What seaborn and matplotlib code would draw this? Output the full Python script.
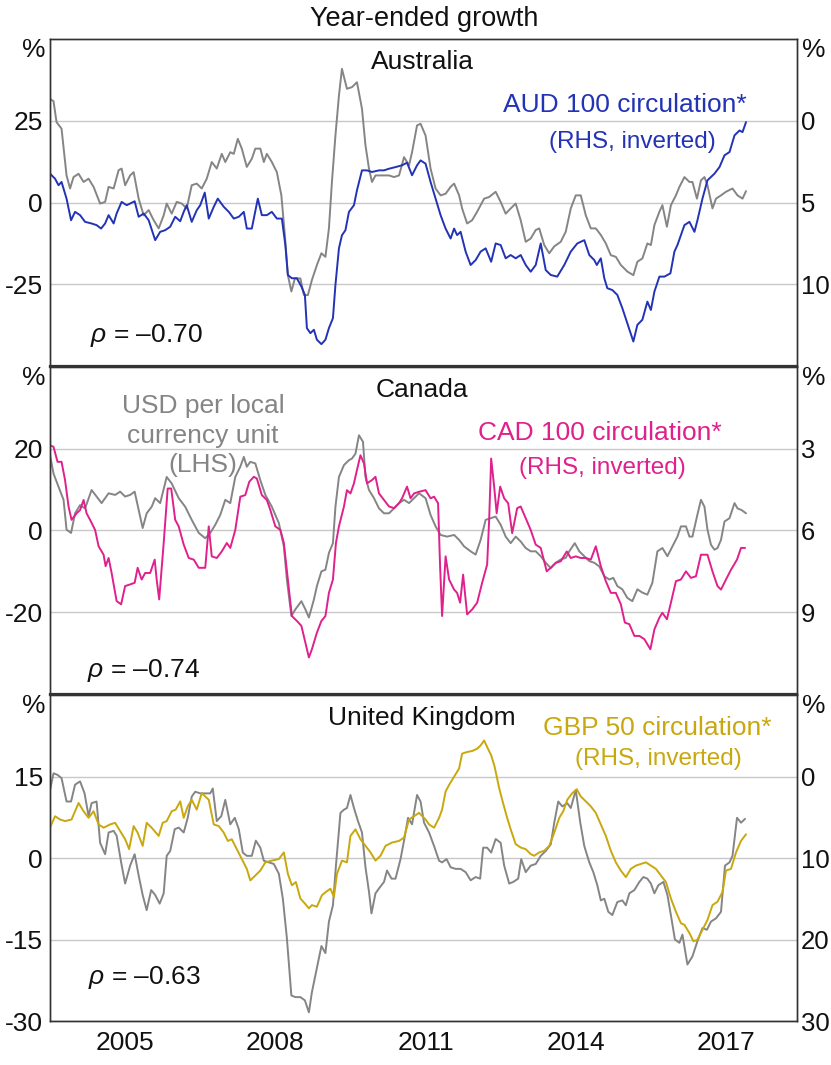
import matplotlib
matplotlib.use("Agg")
import matplotlib.pyplot as plt
import seaborn as sns

# ---- data (decimal years, % year-ended growth) ----
# Australia
aus_fx_t = [2004.00, 2004.07, 2004.13, 2004.23, 2004.33, 2004.40, 2004.47, 2004.57, 2004.67, 2004.77,
            2004.87, 2005.00, 2005.10, 2005.17, 2005.27, 2005.37, 2005.43, 2005.50, 2005.60, 2005.67,
            2005.77, 2005.87, 2005.97, 2006.07, 2006.17, 2006.27, 2006.33, 2006.43, 2006.53, 2006.63,
            2006.73, 2006.83, 2006.93, 2007.03, 2007.13, 2007.23, 2007.33, 2007.43, 2007.50, 2007.60,
            2007.67, 2007.75, 2007.83, 2007.93, 2008.03, 2008.10, 2008.20, 2008.27, 2008.33, 2008.43,
            2008.53, 2008.62, 2008.69, 2008.75, 2008.82, 2008.89, 2009.00, 2009.07, 2009.15, 2009.23,
            2009.33, 2009.42, 2009.50, 2009.57, 2009.63, 2009.70, 2009.77, 2009.83, 2009.93, 2010.03,
            2010.13, 2010.23, 2010.30, 2010.37, 2010.43, 2010.50, 2010.63, 2010.77, 2010.87, 2010.97,
            2011.07, 2011.17, 2011.23, 2011.33, 2011.40, 2011.50, 2011.60, 2011.70, 2011.80, 2011.90,
            2012.00, 2012.07, 2012.17, 2012.23, 2012.33, 2012.43, 2012.53, 2012.67, 2012.77, 2012.90,
            2013.00, 2013.10, 2013.20, 2013.30, 2013.40, 2013.50, 2013.60, 2013.70, 2013.77, 2013.87,
            2013.97, 2014.07, 2014.20, 2014.30, 2014.40, 2014.50, 2014.60, 2014.70, 2014.80, 2014.90,
            2015.00, 2015.10, 2015.20, 2015.30, 2015.40, 2015.53, 2015.65, 2015.73, 2015.83, 2015.93,
            2016.00, 2016.07, 2016.17, 2016.23, 2016.32, 2016.40, 2016.50, 2016.57, 2016.67, 2016.77,
            2016.83, 2016.92, 2017.00, 2017.07, 2017.13, 2017.23, 2017.30, 2017.40, 2017.50, 2017.63,
            2017.73, 2017.83, 2017.90]
aus_fx = [31.7, 31.0, 24.6, 22.6, 8.3, 4.3, 7.8, 8.8, 6.3, 7.3,
          4.8, -0.3, 0.2, 4.8, 4.3, 9.9, 10.4, 5.3, 8.3, 9.3,
          1.2, -3.9, -2.3, -5.4, -7.9, -3.9, -0.3, -3.4, 0.2, -0.3,
          -1.8, 5.3, 5.8, 4.3, 7.3, 12.4, 10.4, 14.9, 12.4, 15.4,
          14.9, 19.5, 16.5, 10.9, 13.4, 16.5, 16.5, 12.4, 14.9, 12.4,
          9.3, 2.2, -10.0, -22.2, -27.2, -23.2, -23.2, -28.3, -28.3, -23.7,
          -19.1, -15.5, -16.6, -7.9, 6.3, 20.5, 32.7, 40.9, 34.8, 35.3,
          36.8, 28.7, 17.5, 10.4, 6.3, 8.3, 8.3, 8.3, 7.8, 8.3,
          13.9, 11.4, 15.4, 23.6, 24.1, 20.5, 10.4, 4.3, 2.2, 2.7,
          4.8, 5.8, 2.2, -1.8, -6.4, -5.4, -2.8, 1.2, 1.7, 3.3,
          0.2, -3.4, -1.8, -0.3, -5.4, -12.0, -11.0, -8.4, -7.9, -13.0,
          -15.5, -13.4, -12.0, -8.9, -1.8, 2.2, 2.2, -3.9, -7.9, -7.9,
          -9.9, -12.5, -16.1, -16.6, -19.1, -21.1, -22.2, -18.1, -17.1, -12.5,
          -13.0, -6.9, -2.8, -0.8, -7.4, -0.8, 2.2, 4.8, 7.8, 6.3,
          6.3, 1.2, 6.8, 7.8, 5.3, -1.8, 1.2, 2.2, 3.3, 4.3,
          2.2, 1.2, 3.5]
aus_circ_t = [2004.00, 2004.10, 2004.17, 2004.23, 2004.33, 2004.42, 2004.50, 2004.60, 2004.70, 2004.83,
              2004.93, 2005.02, 2005.10, 2005.17, 2005.27, 2005.33, 2005.43, 2005.53, 2005.60, 2005.69,
              2005.77, 2005.87, 2005.97, 2006.10, 2006.20, 2006.30, 2006.40, 2006.50, 2006.60, 2006.67,
              2006.73, 2006.83, 2006.93, 2007.00, 2007.09, 2007.17, 2007.27, 2007.35, 2007.47, 2007.57,
              2007.67, 2007.77, 2007.87, 2007.93, 2008.03, 2008.15, 2008.23, 2008.33, 2008.43, 2008.53,
              2008.63, 2008.70, 2008.75, 2008.83, 2008.93, 2009.02, 2009.09, 2009.13, 2009.20, 2009.27,
              2009.33, 2009.42, 2009.50, 2009.57, 2009.65, 2009.70, 2009.77, 2009.83, 2009.90, 2009.97,
              2010.07, 2010.13, 2010.23, 2010.33, 2010.43, 2010.57, 2010.67, 2010.77, 2010.90, 2011.03,
              2011.13, 2011.23, 2011.33, 2011.40, 2011.50, 2011.60, 2011.70, 2011.80, 2011.90, 2012.00,
              2012.07, 2012.13, 2012.20, 2012.30, 2012.40, 2012.50, 2012.60, 2012.70, 2012.81, 2012.90,
              2013.00, 2013.10, 2013.20, 2013.30, 2013.40, 2013.50, 2013.60, 2013.70, 2013.80, 2013.90,
              2014.00, 2014.13, 2014.27, 2014.40, 2014.53, 2014.67, 2014.77, 2014.87, 2014.92, 2015.00,
              2015.07, 2015.13, 2015.23, 2015.33, 2015.43, 2015.53, 2015.65, 2015.73, 2015.83, 2015.93,
              2016.00, 2016.07, 2016.17, 2016.27, 2016.39, 2016.47, 2016.53, 2016.67, 2016.77, 2016.87,
              2016.93, 2017.03, 2017.13, 2017.27, 2017.37, 2017.47, 2017.57, 2017.67, 2017.77, 2017.83,
              2017.90]
aus_circ = [3.23, 3.54, 3.94, 3.74, 4.76, 6.08, 5.57, 5.77, 6.18, 6.28,
            6.38, 6.59, 6.28, 5.77, 6.28, 5.67, 4.96, 5.16, 5.06, 4.92,
            5.87, 5.67, 6.08, 7.30, 6.79, 6.69, 6.48, 5.87, 6.14, 5.57,
            5.16, 6.18, 5.47, 5.16, 4.39, 5.98, 5.26, 4.76, 5.26, 5.57,
            5.98, 5.87, 5.57, 6.59, 6.59, 4.76, 5.77, 5.77, 5.57, 5.98,
            5.98, 7.60, 9.43, 9.63, 9.63, 10.14, 10.65, 12.68, 12.99, 12.78,
            13.39, 13.66, 13.39, 12.68, 12.07, 10.04, 7.80, 7.00, 6.69, 5.57,
            5.16, 4.25, 3.03, 3.03, 3.13, 3.03, 3.03, 2.93, 2.83, 2.72,
            2.56, 3.33, 2.72, 2.42, 2.62, 3.74, 4.76, 5.77, 6.59, 7.20,
            6.59, 6.99, 6.79, 8.00, 8.82, 8.52, 8.00, 7.80, 8.62, 7.50,
            7.60, 8.41, 8.21, 8.41, 8.21, 8.82, 9.23, 8.82, 7.50, 9.13,
            9.43, 9.53, 8.82, 8.00, 7.50, 7.30, 8.21, 8.52, 8.82, 8.41,
            9.63, 10.24, 10.35, 10.65, 11.46, 12.38, 13.50, 12.48, 12.17, 11.06,
            11.57, 10.45, 9.53, 9.53, 9.33, 8.00, 7.60, 6.38, 6.18, 6.79,
            6.08, 4.76, 3.64, 3.23, 2.83, 2.11, 1.91, 0.89, 0.59, 0.69,
            0.08]

# Canada
can_fx_t = [2004.00, 2004.07, 2004.17, 2004.27, 2004.33, 2004.42, 2004.50, 2004.60, 2004.70, 2004.83,
            2004.93, 2005.03, 2005.17, 2005.30, 2005.40, 2005.50, 2005.60, 2005.69, 2005.77, 2005.85,
            2005.93, 2006.03, 2006.10, 2006.20, 2006.33, 2006.43, 2006.57, 2006.70, 2006.83, 2006.97,
            2007.10, 2007.20, 2007.30, 2007.40, 2007.50, 2007.60, 2007.70, 2007.80, 2007.87, 2007.93,
            2008.00, 2008.10, 2008.20, 2008.30, 2008.43, 2008.57, 2008.67, 2008.73, 2008.82, 2008.90,
            2009.02, 2009.10, 2009.17, 2009.27, 2009.33, 2009.42, 2009.50, 2009.57, 2009.65, 2009.70,
            2009.77, 2009.87, 2009.97, 2010.03, 2010.10, 2010.17, 2010.25, 2010.30, 2010.37, 2010.47,
            2010.57, 2010.67, 2010.77, 2010.87, 2010.97, 2011.07, 2011.17, 2011.27, 2011.37, 2011.50,
            2011.60, 2011.70, 2011.80, 2011.93, 2012.07, 2012.17, 2012.27, 2012.40, 2012.50, 2012.60,
            2012.70, 2012.80, 2012.90, 2013.00, 2013.10, 2013.20, 2013.30, 2013.40, 2013.50, 2013.60,
            2013.70, 2013.80, 2013.90, 2014.00, 2014.10, 2014.20, 2014.30, 2014.37, 2014.48, 2014.57,
            2014.67, 2014.77, 2014.87, 2014.97, 2015.07, 2015.17, 2015.25, 2015.33, 2015.43, 2015.53,
            2015.63, 2015.73, 2015.83, 2015.93, 2016.03, 2016.13, 2016.23, 2016.33, 2016.43, 2016.53,
            2016.60, 2016.70, 2016.77, 2016.83, 2016.92, 2017.00, 2017.07, 2017.13, 2017.20, 2017.27,
            2017.33, 2017.40, 2017.47, 2017.57, 2017.67, 2017.73, 2017.81, 2017.90]
can_fx = [18.4, 13.9, 10.7, 7.5, 0.2, -0.6, 4.2, 6.2, 5.4, 9.9,
          8.3, 6.7, 9.1, 8.7, 9.5, 8.3, 8.7, 9.5, 5.0, 0.6,
          4.2, 5.8, 7.9, 6.7, 13.1, 11.5, 7.9, 5.8, 2.6, -0.6,
          -1.9, -0.6, 1.4, 3.8, 7.5, 6.7, 13.1, 15.6, 18.0, 15.6,
          16.8, 16.4, 12.3, 8.7, 5.8, 1.8, -3.9, -12.0, -20.9, -19.3,
          -17.3, -19.3, -21.3, -16.9, -13.6, -10.0, -9.6, -5.5, -3.1, 5.8,
          13.1, 16.0, 17.2, 17.6, 18.8, 23.3, 21.7, 13.1, 9.9, 7.9,
          5.4, 4.2, 4.2, 5.4, 6.7, 7.5, 6.7, 7.9, 9.1, 7.9,
          3.8, 1.0, -1.1, -1.5, -1.1, -2.3, -3.9, -5.1, -5.9, -2.3,
          2.6, 3.0, 3.4, 1.4, -1.5, -3.1, -1.5, -2.7, -4.3, -5.1,
          -5.1, -6.3, -7.9, -9.2, -7.9, -7.1, -6.7, -5.1, -3.1, -5.1,
          -6.3, -7.5, -7.9, -8.8, -11.2, -12.0, -11.6, -13.6, -14.4, -16.5,
          -17.3, -14.4, -15.2, -15.7, -12.8, -5.1, -4.3, -6.3, -3.9, -1.5,
          1.0, 1.0, -1.5, -1.5, 3.4, 7.5, 5.8, 0.2, -3.5, -4.7,
          -4.3, -2.3, 2.2, 3.0, 6.7, 5.4, 5.0, 4.2]
can_circ_t = [2004.00, 2004.07, 2004.15, 2004.23, 2004.30, 2004.37, 2004.43, 2004.53, 2004.60, 2004.67,
              2004.73, 2004.80, 2004.90, 2004.97, 2005.07, 2005.11, 2005.17, 2005.23, 2005.33, 2005.42,
              2005.50, 2005.60, 2005.69, 2005.75, 2005.83, 2005.90, 2006.00, 2006.09, 2006.13, 2006.18,
              2006.27, 2006.35, 2006.42, 2006.50, 2006.57, 2006.67, 2006.77, 2006.87, 2006.97, 2007.10,
              2007.17, 2007.23, 2007.33, 2007.43, 2007.53, 2007.60, 2007.70, 2007.80, 2007.90, 2007.98,
              2008.07, 2008.13, 2008.23, 2008.33, 2008.40, 2008.50, 2008.60, 2008.67, 2008.75, 2008.83,
              2008.93, 2009.02, 2009.10, 2009.17, 2009.23, 2009.33, 2009.42, 2009.50, 2009.57, 2009.65,
              2009.71, 2009.77, 2009.87, 2009.93, 2010.00, 2010.07, 2010.13, 2010.20, 2010.27, 2010.33,
              2010.43, 2010.50, 2010.57, 2010.67, 2010.77, 2010.87, 2010.97, 2011.03, 2011.13, 2011.20,
              2011.27, 2011.37, 2011.50, 2011.60, 2011.67, 2011.75, 2011.79, 2011.83, 2011.90, 2011.97,
              2012.07, 2012.13, 2012.19, 2012.25, 2012.33, 2012.43, 2012.53, 2012.63, 2012.73, 2012.77,
              2012.81, 2012.87, 2012.92, 2012.99, 2013.07, 2013.15, 2013.23, 2013.33, 2013.40, 2013.50,
              2013.60, 2013.70, 2013.80, 2013.92, 2014.00, 2014.10, 2014.20, 2014.32, 2014.40, 2014.50,
              2014.60, 2014.70, 2014.80, 2014.90, 2015.00, 2015.10, 2015.20, 2015.30, 2015.40, 2015.48,
              2015.57, 2015.67, 2015.77, 2015.87, 2015.99, 2016.07, 2016.17, 2016.23, 2016.32, 2016.40,
              2016.50, 2016.60, 2016.70, 2016.80, 2016.90, 2017.00, 2017.13, 2017.23, 2017.33, 2017.40,
              2017.50, 2017.60, 2017.72, 2017.80, 2017.88]
can_circ = [2.87, 2.93, 3.48, 3.48, 4.15, 5.12, 5.61, 5.37, 5.25, 4.88,
            5.37, 5.61, 5.98, 6.58, 6.89, 7.31, 7.01, 7.56, 8.59, 8.71,
            8.04, 7.98, 7.92, 7.37, 7.80, 7.56, 7.56, 7.07, 7.80, 8.53,
            6.46, 4.46, 4.46, 5.61, 5.85, 6.52, 7.01, 7.07, 7.37, 7.37,
            5.85, 6.95, 7.01, 6.77, 6.46, 6.64, 5.98, 4.76, 4.70, 4.21,
            4.03, 4.09, 4.70, 4.88, 5.25, 5.85, 5.98, 6.46, 7.80, 9.14,
            9.32, 9.50, 10.11, 10.66, 10.36, 9.75, 9.32, 9.14, 8.29, 7.80,
            6.46, 5.85, 5.12, 4.52, 4.64, 4.27, 3.78, 3.24, 3.54, 4.27,
            4.15, 4.03, 4.64, 4.88, 5.12, 5.18, 5.00, 4.82, 4.39, 4.82,
            4.64, 4.58, 4.52, 4.82, 4.76, 5.00, 7.31, 9.14, 6.95, 7.80,
            8.17, 8.29, 8.65, 7.62, 9.08, 8.90, 8.65, 7.92, 7.25, 5.61,
            3.36, 4.39, 5.37, 4.39, 4.82, 5.00, 6.10, 5.18, 5.12, 5.55,
            5.98, 6.52, 6.64, 7.50, 7.37, 7.19, 7.13, 6.77, 7.01, 6.95,
            7.01, 7.01, 7.07, 6.58, 7.31, 7.86, 8.29, 8.29, 8.71, 9.38,
            9.44, 9.87, 9.87, 9.99, 10.36, 9.63, 9.20, 9.02, 9.26, 8.65,
            7.86, 7.80, 7.50, 7.74, 7.68, 6.89, 6.89, 7.50, 8.04, 8.17,
            7.80, 7.44, 7.07, 6.64, 6.64]

# United Kingdom
uk_fx_t = [2004.00, 2004.07, 2004.15, 2004.23, 2004.33, 2004.42, 2004.50, 2004.60, 2004.69, 2004.77,
           2004.83, 2004.93, 2005.00, 2005.10, 2005.17, 2005.27, 2005.33, 2005.42, 2005.50, 2005.60,
           2005.69, 2005.77, 2005.85, 2005.93, 2006.02, 2006.10, 2006.19, 2006.27, 2006.33, 2006.40,
           2006.49, 2006.57, 2006.67, 2006.75, 2006.83, 2006.90, 2007.00, 2007.10, 2007.20, 2007.25,
           2007.33, 2007.42, 2007.50, 2007.60, 2007.69, 2007.77, 2007.85, 2007.93, 2008.03, 2008.11,
           2008.20, 2008.27, 2008.37, 2008.47, 2008.57, 2008.65, 2008.73, 2008.82, 2008.90, 2009.00,
           2009.09, 2009.17, 2009.23, 2009.33, 2009.42, 2009.50, 2009.57, 2009.65, 2009.71, 2009.80,
           2009.87, 2009.93, 2010.00, 2010.07, 2010.15, 2010.23, 2010.30, 2010.37, 2010.42, 2010.50,
           2010.57, 2010.67, 2010.73, 2010.82, 2010.90, 2011.00, 2011.07, 2011.15, 2011.23, 2011.33,
           2011.40, 2011.47, 2011.57, 2011.67, 2011.77, 2011.83, 2011.92, 2012.00, 2012.10, 2012.20,
           2012.30, 2012.40, 2012.50, 2012.59, 2012.65, 2012.73, 2012.81, 2012.90, 2013.00, 2013.07,
           2013.17, 2013.25, 2013.35, 2013.41, 2013.50, 2013.60, 2013.70, 2013.80, 2013.90, 2014.00,
           2014.07, 2014.15, 2014.23, 2014.33, 2014.40, 2014.50, 2014.59, 2014.67, 2014.77, 2014.85,
           2014.93, 2015.00, 2015.07, 2015.15, 2015.23, 2015.33, 2015.43, 2015.50, 2015.57, 2015.67,
           2015.77, 2015.85, 2015.93, 2016.00, 2016.07, 2016.15, 2016.25, 2016.33, 2016.41, 2016.48,
           2016.57, 2016.63, 2016.73, 2016.83, 2016.93, 2017.03, 2017.12, 2017.20, 2017.30, 2017.40,
           2017.48, 2017.57, 2017.63, 2017.72, 2017.80, 2017.88]
uk_fx = [12.5, 15.6, 15.3, 14.7, 10.4, 10.4, 13.5, 14.1, 11.9, 7.7,
         10.1, 10.4, 2.8, 0.7, 4.7, 5.0, 4.1, -0.8, -4.7, -1.4,
         0.7, -3.2, -6.8, -9.6, -5.9, -6.8, -8.4, -6.5, 0.4, 1.3,
         5.3, 5.6, 4.7, 7.4, 11.3, 12.2, 11.9, 11.9, 11.9, 12.8,
         6.8, 7.7, 10.7, 6.2, 7.4, 5.3, 1.0, 0.4, 0.4, 3.2,
         1.9, -0.5, -0.8, -1.1, -2.9, -7.5, -14.7, -25.3, -25.6, -25.6,
         -26.2, -28.4, -24.7, -20.2, -16.2, -17.5, -11.7, -8.7, -1.4, 8.3,
         8.9, 9.2, 11.6, 9.2, 6.8, 4.7, -1.7, -6.2, -10.2, -6.5,
         -5.6, -4.4, -2.3, -3.8, -3.8, -0.2, 3.2, 7.4, 6.2, 11.6,
         10.4, 6.5, 4.7, 2.2, -0.5, -0.8, -0.2, -1.7, -2.0, -2.0,
         -2.6, -4.1, -3.5, -3.8, 1.9, 1.9, 1.0, 3.5, 2.8, -1.4,
         -4.7, -4.4, -3.8, -0.2, -2.6, -1.4, -1.1, 0.4, 1.3, 2.5,
         6.5, 10.4, 9.5, 10.1, 9.2, 12.5, 6.5, 2.2, -0.8, -2.6,
         -5.0, -7.8, -7.5, -9.9, -10.5, -8.1, -7.8, -8.7, -6.5, -5.9,
         -4.4, -3.5, -3.8, -4.7, -6.5, -5.0, -4.4, -6.8, -11.1, -15.0,
         -15.6, -14.1, -19.6, -18.1, -15.3, -12.9, -13.2, -11.7, -11.1, -9.9,
         -1.4, -0.8, 0.4, 7.4, 6.5, 7.2]
uk_circ_t = [2004.00, 2004.10, 2004.20, 2004.30, 2004.43, 2004.57, 2004.67, 2004.77, 2004.87, 2004.97,
             2005.07, 2005.20, 2005.30, 2005.40, 2005.50, 2005.58, 2005.67, 2005.75, 2005.85, 2005.93,
             2006.03, 2006.17, 2006.25, 2006.33, 2006.43, 2006.51, 2006.60, 2006.67, 2006.75, 2006.83,
             2006.93, 2007.03, 2007.17, 2007.27, 2007.37, 2007.47, 2007.55, 2007.63, 2007.73, 2007.83,
             2007.93, 2008.00, 2008.10, 2008.20, 2008.30, 2008.43, 2008.57, 2008.67, 2008.75, 2008.83,
             2008.91, 2009.00, 2009.09, 2009.17, 2009.23, 2009.33, 2009.43, 2009.51, 2009.60, 2009.67,
             2009.73, 2009.83, 2009.93, 2010.00, 2010.10, 2010.20, 2010.30, 2010.40, 2010.50, 2010.60,
             2010.70, 2010.83, 2010.97, 2011.07, 2011.17, 2011.27, 2011.37, 2011.50, 2011.57, 2011.67,
             2011.77, 2011.83, 2011.90, 2011.97, 2012.07, 2012.17, 2012.23, 2012.33, 2012.43, 2012.53,
             2012.60, 2012.67, 2012.73, 2012.81, 2012.88, 2012.97, 2013.03, 2013.12, 2013.20, 2013.30,
             2013.40, 2013.50, 2013.60, 2013.67, 2013.77, 2013.87, 2013.97, 2014.07, 2014.17, 2014.25,
             2014.33, 2014.43, 2014.52, 2014.60, 2014.70, 2014.80, 2014.90, 2015.00, 2015.10, 2015.20,
             2015.30, 2015.40, 2015.50, 2015.60, 2015.70, 2015.80, 2015.90, 2016.00, 2016.10, 2016.20,
             2016.30, 2016.40, 2016.50, 2016.60, 2016.67, 2016.77, 2016.85, 2016.93, 2017.03, 2017.13,
             2017.23, 2017.33, 2017.43, 2017.50, 2017.60, 2017.70, 2017.80, 2017.90]
uk_circ = [6.28, 4.87, 5.27, 5.47, 5.27, 3.25, 4.26, 5.07, 4.26, 5.88,
           6.28, 5.88, 5.68, 6.69, 7.70, 8.91, 6.08, 6.89, 8.51, 5.68,
           6.28, 7.29, 5.68, 5.47, 4.26, 4.06, 3.05, 5.07, 3.66, 2.85,
           4.06, 2.04, 2.85, 5.88, 6.08, 6.89, 7.90, 7.70, 8.91, 10.12,
           11.33, 12.75, 12.14, 11.54, 10.53, 10.32, 10.12, 9.31, 11.94, 13.35,
           12.95, 14.97, 15.58, 16.18, 15.78, 15.98, 14.57, 14.16, 13.76, 14.77,
           11.94, 10.32, 10.53, 7.29, 6.48, 7.70, 8.51, 9.31, 10.32, 9.72,
           8.51, 8.10, 7.90, 7.49, 5.27, 4.87, 4.46, 5.27, 5.88, 6.28,
           5.07, 4.06, 1.84, 1.03, 0.02, -0.99, -2.81, -3.01, -3.13, -3.41,
           -3.82, -4.42, -3.62, -2.61, -1.19, 1.43, 2.85, 4.87, 6.48, 8.30,
           8.71, 8.91, 9.52, 9.72, 9.31, 9.11, 8.51, 6.89, 5.07, 4.26,
           2.85, 2.04, 1.56, 2.44, 3.05, 3.66, 4.46, 5.88, 7.29, 9.11,
           10.53, 11.54, 12.34, 11.33, 10.93, 10.73, 10.53, 10.93, 11.33, 12.14,
           12.95, 14.97, 16.59, 18.00, 18.20, 19.21, 20.22, 20.02, 18.81, 17.60,
           15.78, 15.37, 14.16, 11.54, 11.33, 9.31, 7.90, 7.09]

year_ticks = list(range(2005, 2019))
year_labels = ["2005", "2008", "2011", "2014", "2017"]

# ---- style ----
sns.set_theme(style="white")
plt.rcParams["font.family"] = ["Liberation Sans", "DejaVu Sans"]
plt.rcParams["mathtext.fontset"] = "custom"
plt.rcParams["mathtext.it"] = "Liberation Sans:italic"
plt.rcParams["mathtext.rm"] = "Liberation Sans"

GREY = "#858585"
FS = 19
FRAME = "#333333"

fig = plt.figure(figsize=(8.31, 10.65), dpi=100)
fig.text(0.511, 0.982, "Year-ended growth", ha="center", va="center", fontsize=19.5, color="#111111")

# axes rectangles in figure fractions: left, bottom, width, height
rects = [
    [0.0602, 0.6563, 0.899, 0.3070],
    [0.0602, 0.3484, 0.899, 0.3070],
    [0.0602, 0.0413, 0.899, 0.3061],
]

panels = [
    dict(name="Australia", fx_t=aus_fx_t, fx=aus_fx, c_t=aus_circ_t, c=aus_circ,
         color="#2233b5", lhs=(-50, 50), lhs_ticks=[25, 0, -25], rhs=(15, -5), rhs_ticks=[0, 5, 10],
         label="AUD 100 circulation*", lab_xy=(0.770, 0.798), sub_xy=(0.780, 0.685),
         rho="\u20130.70", rho_xy=(0.0535, 0.092)),
    dict(name="Canada", fx_t=can_fx_t, fx=can_fx, c_t=can_circ_t, c=can_circ,
         color="#e0208c", lhs=(-40, 40), lhs_ticks=[20, 0, -20], rhs=(12, 0), rhs_ticks=[3, 6, 9],
         label="CAD 100 circulation*", lab_xy=(0.736, 0.798), sub_xy=(0.739, 0.691),
         rho="\u20130.74", rho_xy=(0.0495, 0.073)),
    dict(name="United Kingdom", fx_t=uk_fx_t, fx=uk_fx, c_t=uk_circ_t, c=uk_circ,
         color="#c9a80e", lhs=(-30, 30), lhs_ticks=[15, 0, -15, -30], rhs=(30, -10), rhs_ticks=[0, 10, 20, 30],
         label="GBP 50 circulation*", lab_xy=(0.8125, 0.899), sub_xy=(0.814, 0.804),
         rho="\u20130.63", rho_xy=(0.051, 0.135)),
]

for i, (p, r) in enumerate(zip(panels, rects)):
    ax = fig.add_axes(r)
    ax2 = ax.twinx()

    sns.lineplot(x=p["fx_t"], y=p["fx"], ax=ax, color=GREY, lw=1.4)
    sns.lineplot(x=p["c_t"], y=p["c"], ax=ax2, color=p["color"], lw=1.4)

    ax.set_xlim(2004.0, 2018.92)
    ax.set_ylim(*p["lhs"])
    ax2.set_ylim(*p["rhs"])
    ax.set_xlabel("")
    ax.set_ylabel("")
    ax2.set_ylabel("")

    ax.set_yticks(p["lhs_ticks"])
    ax.set_yticklabels([str(v) for v in p["lhs_ticks"]])
    ax2.set_yticks(p["rhs_ticks"])
    ax2.set_yticklabels([str(v) for v in p["rhs_ticks"]])
    ax.tick_params(axis="y", length=0, pad=5, labelsize=FS, labelcolor="#111111")
    ax2.tick_params(axis="y", length=0, pad=2.5, labelsize=18.5, labelcolor="#111111")

    ax.grid(axis="y", color="#c8c8c8", lw=1.0)
    ax.grid(axis="x", visible=False)
    ax.set_axisbelow(True)

    for a in (ax, ax2):
        for s in a.spines.values():
            s.set_color(FRAME)
            s.set_linewidth(1.0)
    if i < 2:
        ax.spines["bottom"].set_linewidth(1.6)
    if i > 0:
        ax.spines["top"].set_linewidth(1.6)

    if i == 2:
        ax.set_xticks(year_ticks)
        ax.set_xticklabels([])
        ax.set_xticks([int(y) + 0.5 for y in year_labels], minor=True)
        ax.set_xticklabels(year_labels, minor=True)
        ax.tick_params(axis="x", which="major", direction="in", length=5, width=1, color=FRAME, bottom=True)
        ax.tick_params(axis="x", which="minor", length=0, pad=7, labelsize=FS, labelcolor="#111111", bottom=True)
    else:
        ax.set_xticks([])
    ax2.set_xticks([])

    # "%" unit markers
    ax.text(-0.0214, 0.967, "%", transform=ax.transAxes, ha="center", va="center", fontsize=FS, color="#111111")
    ax.text(1.0228, 0.967, "%", transform=ax.transAxes, ha="center", va="center", fontsize=FS, color="#111111")

    ax2.text(0.498, 0.930, p["name"], transform=ax.transAxes, ha="center", va="center", fontsize=FS, color="#111111")
    ax2.text(*p["lab_xy"], p["label"], transform=ax.transAxes, ha="center", va="center", fontsize=FS, color=p["color"])
    ax2.text(*p["sub_xy"], "(RHS, inverted)", transform=ax.transAxes, ha="center", va="center", fontsize=17.5,
             color=p["color"])
    ax2.text(*p["rho_xy"], r"$\mathit{\rho}$ = " + p["rho"], transform=ax.transAxes, ha="left", va="center",
             fontsize=FS, color="#111111")

    if i == 1:
        ax2.text(0.205, 0.789, "USD per local\ncurrency unit\n(LHS)", transform=ax.transAxes, ha="center",
                 va="center", fontsize=FS, color=GREY, linespacing=1.29)

fig.savefig("out.png", dpi=100)
